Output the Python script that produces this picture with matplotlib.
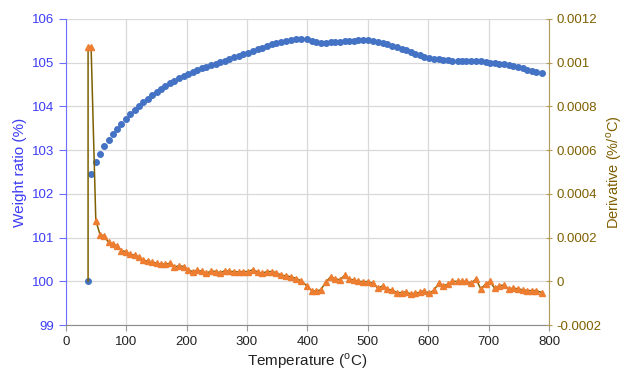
import matplotlib
matplotlib.use('Agg')
import matplotlib.pyplot as plt

plt.rcParams['font.family'] = ['Liberation Sans', 'DejaVu Sans']

# Temperatura das amostras (C)
temperatura = [37, 42, 49.8, 56.8, 63.6, 71, 77.8, 85, 92, 99.5,
               106.8, 114, 121.3, 128.5, 135.8, 143, 150.5, 157.7, 165, 172.5,
               180, 187.5, 195, 202.5, 210, 217.5, 225.5, 233, 240.5, 248,
               256, 263.5, 271, 279, 286.5, 294, 302, 310, 317.5, 325,
               333, 341, 348.5, 356.5, 364.5, 373, 382, 390, 399, 407,
               414, 422, 431, 438.7, 446, 454, 462, 469.6, 477, 484.5,
               492, 500, 508, 517, 525, 532.5, 540, 548, 556, 563,
               571, 578, 586, 593, 602, 610, 617.5, 625, 633, 640,
               648.6, 656, 663, 671.5, 679, 687, 695, 702, 710, 718,
               725.6, 733, 741, 749, 756.6, 764, 772, 779, 788]

# Razao de massa (%)
massa = [100.0, 102.45, 102.72, 102.92, 103.09, 103.24, 103.37, 103.49, 103.60, 103.72,
         103.82, 103.92, 104.01, 104.10, 104.18, 104.26, 104.34, 104.40, 104.46, 104.53,
         104.59, 104.65, 104.70, 104.74, 104.78, 104.83, 104.88, 104.91, 104.95, 104.98,
         105.02, 105.05, 105.08, 105.12, 105.15, 105.19, 105.23, 105.27, 105.31, 105.34,
         105.38, 105.42, 105.45, 105.47, 105.50, 105.53, 105.54, 105.55, 105.54, 105.50,
         105.47, 105.46, 105.44, 105.47, 105.47, 105.47, 105.49, 105.49, 105.50, 105.51,
         105.51, 105.51, 105.50, 105.48, 105.45, 105.43, 105.39, 105.35, 105.32, 105.30,
         105.25, 105.21, 105.17, 105.14, 105.11, 105.09, 105.09, 105.07, 105.06, 105.05,
         105.05, 105.05, 105.05, 105.05, 105.04, 105.03, 105.02, 105.00, 104.99, 104.97,
         104.96, 104.94, 104.92, 104.90, 104.87, 104.84, 104.82, 104.79, 104.77]

# Derivada (%/C) - o primeiro ponto (37, 0) nao tem marcador
temp_derivada = [37] + temperatura
derivada = [0.0, 0.00107, 0.00107, 0.000278, 0.000214, 0.000208, 0.000178, 0.000172, 0.000162, 0.000141, 0.000136,
            0.000123, 0.000120, 0.000111, 0.000098, 0.000092, 0.000089, 0.000083, 0.000079, 0.000079, 0.000083,
            0.000065, 0.000072, 0.000068, 0.000053, 0.000045, 0.000050, 0.000048, 0.000037, 0.000048, 0.000045,
            0.000040, 0.000049, 0.000046, 0.000045, 0.000043, 0.000045, 0.000045, 0.000054, 0.000043, 0.000037,
            0.000045, 0.000045, 0.000040, 0.000028, 0.000026, 0.000021, 0.000013, 0.000002, -0.000020, -0.000042,
            -0.000044, -0.000039, -0.000002, 0.000022, 0.000011, 0.000008, 0.000028, 0.000010, 0.000007, 0.0,
            -0.000001, -0.000001, -0.000008, -0.000031, -0.000020, -0.000036, -0.000039, -0.000051, -0.000051, -0.000048,
            -0.000057, -0.000054, -0.000050, -0.000043, -0.000054, -0.000039, -0.000008, -0.000020, -0.000013, 0.0,
            0.0, 0.0, 0.0, -0.000008, 0.000011, -0.000034, -0.000013, 0.0, -0.000031,
            -0.000020, -0.000016, -0.000034, -0.000031, -0.000034, -0.000039, -0.000042, -0.000042, -0.000042, -0.000051]

ticks_x = [0, 100, 200, 300, 400, 500, 600, 700, 800]
ticks_massa = [99, 100, 101, 102, 103, 104, 105, 106]
ticks_derivada = [-0.0002, 0, 0.0002, 0.0004, 0.0006, 0.0008, 0.001, 0.0012]

azul_txt = '#3d3df5'
ouro_txt = '#7f6000'

fig = plt.figure(figsize=(6.26, 3.72), dpi=100)
ax = fig.add_axes([0.105, 0.126, 0.772, 0.823])

# Grafico 1 - razao de massa (eixo esquerdo)
ax.plot(temperatura, massa, linestyle='none', marker='o', markersize=4.0,
        color='#4472C4', zorder=3)
ax.set_xlim(0, 800)
ax.set_ylim(99, 106)
ax.set_xticks(ticks_x)
ax.set_yticks(ticks_massa)
ax.grid(True, color='#d9d9d9', linewidth=0.9)
ax.set_axisbelow(True)
ax.set_xlabel('Temperature ($^\\mathregular{o}$C)', fontsize=11, color='#222222', labelpad=3)
ax.set_ylabel('Weight ratio (%)', fontsize=11, color=azul_txt, labelpad=3)
ax.tick_params(axis='y', colors='#6f6fff', labelcolor=azul_txt, labelsize=9.5, length=5, direction='out')
ax.tick_params(axis='x', colors='#9a9a9a', labelcolor='#222222', labelsize=9.5, length=4, direction='out')
for lado in ['top', 'right']:
    ax.spines[lado].set_visible(False)
ax.spines['left'].set_color('#6f6fff')
ax.spines['bottom'].set_color('#8a8a8a')

# Grafico 2 - derivada (eixo direito)
ax2 = ax.twinx()
ax2.plot(temp_derivada, derivada, color='#7f6000', linewidth=1.1,
         marker='^', markersize=4.0, markerfacecolor='#ED7D31', markeredgecolor='#ED7D31',
         markevery=list(range(1, len(derivada))), zorder=4)
ax2.set_ylim(-0.0002, 0.0012)
ax2.set_yticks(ticks_derivada)
ax2.set_yticklabels(['%g' % v for v in ticks_derivada])
ax2.set_ylabel('Derivative (%/$^\\mathregular{o}$C)', fontsize=10.5, color=ouro_txt, labelpad=2)
ax2.tick_params(axis='y', colors='#b39b5a', labelcolor=ouro_txt, labelsize=9.5, length=5, direction='inout', pad=3)
for lado in ['top', 'left', 'bottom']:
    ax2.spines[lado].set_visible(False)
ax2.spines['right'].set_color('#b39b5a')

fig.savefig('out.png', dpi=100)
